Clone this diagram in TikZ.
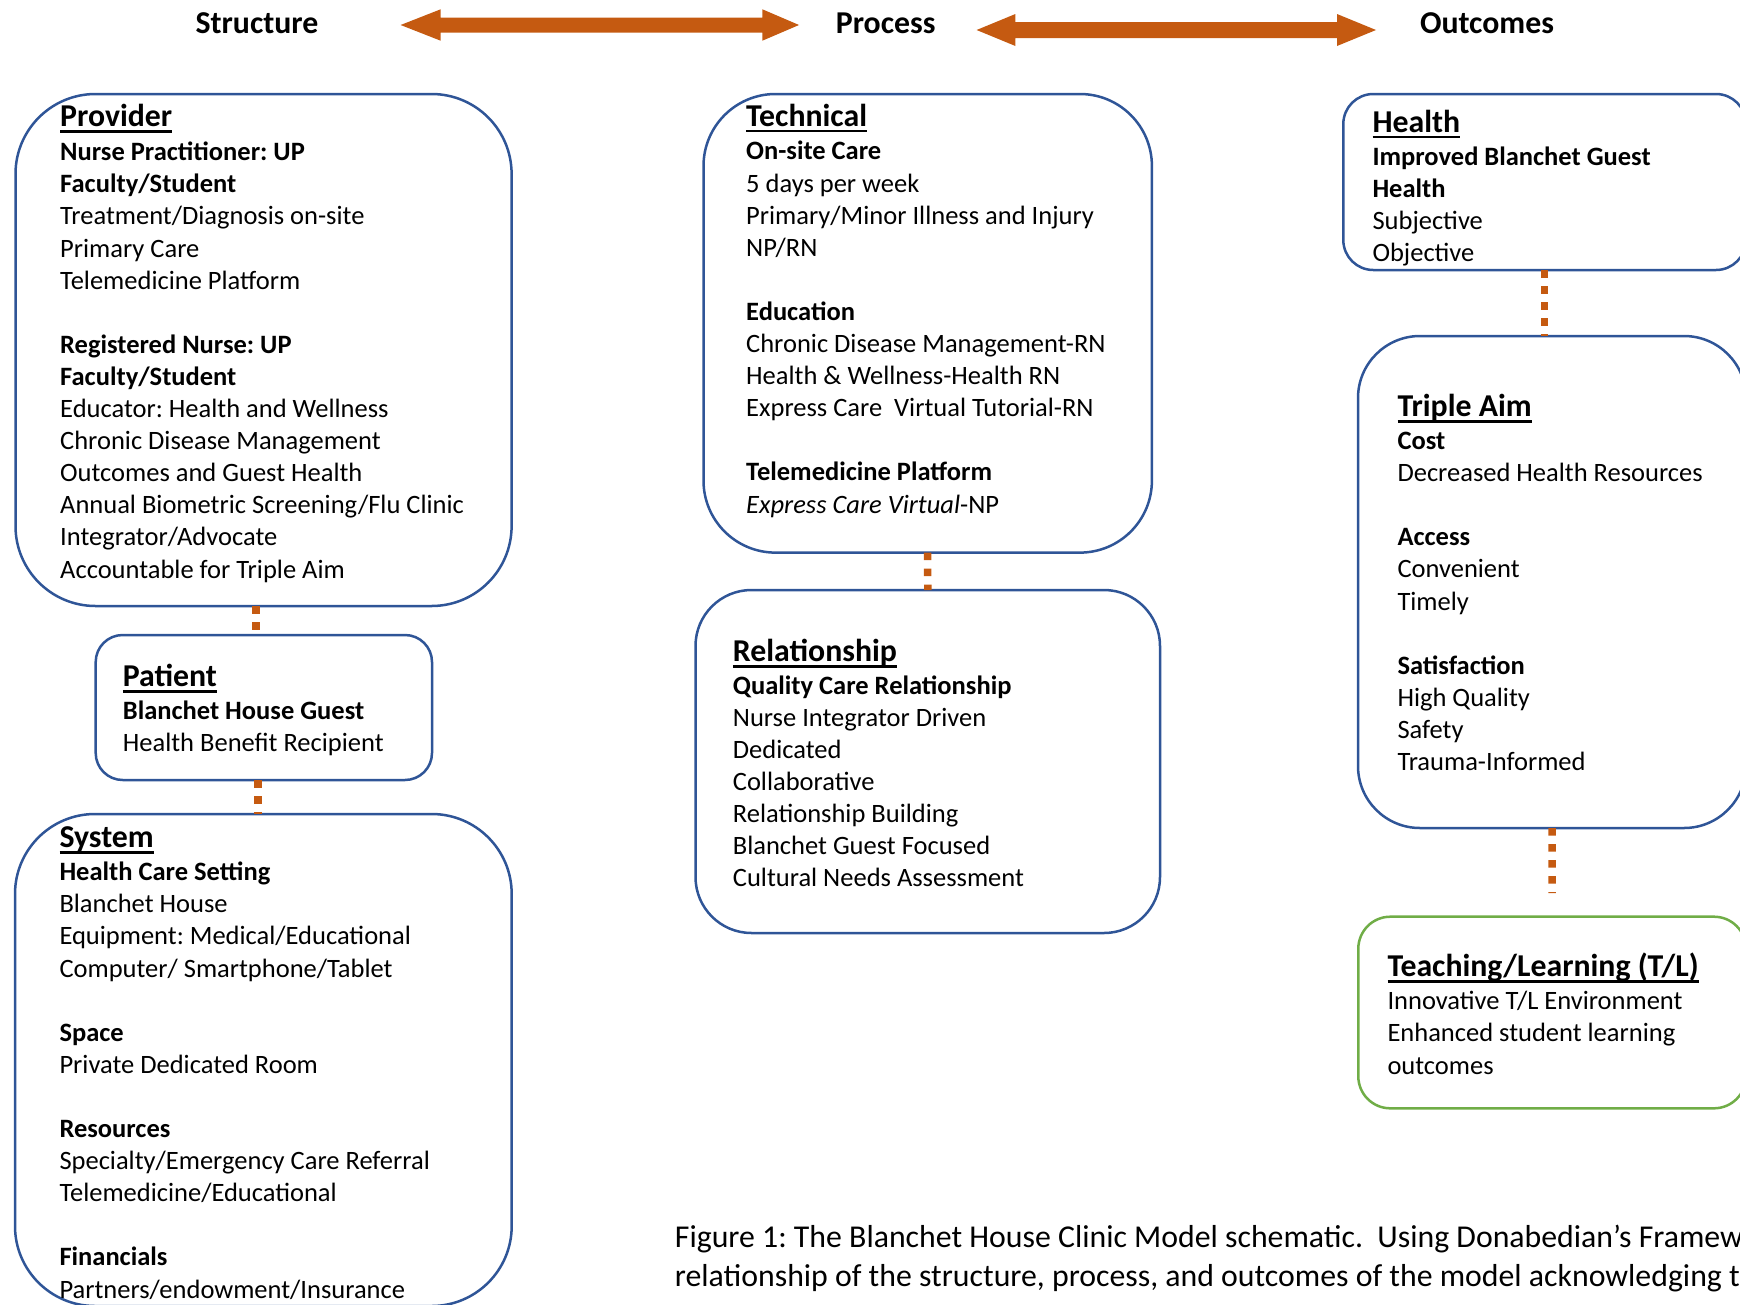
\documentclass[tikz,border=0pt]{standalone}
\usepackage{fontspec}
\setmainfont{Carlito}
\frenchspacing
\definecolor{bxblue}{HTML}{2F5597}
\definecolor{bxgreen}{HTML}{70AD47}
\definecolor{arrc}{HTML}{C55A11}
\newcommand\ulhead[1]{\setbox0\hbox{#1}\rlap{\rule[-6.3pt]{\wd0}{2.6pt}}\box0}
\tikzset{
  bx/.style={draw=bxblue, line width=2.5pt, rounded corners=#1, inner sep=0pt, outer sep=0pt, fill=none},
  gbx/.style={bx=#1, draw=bxgreen},
  hd/.style={anchor=base west, inner sep=0pt, font=\fontsize{31.8}{38.8}\selectfont\bfseries},
  bd/.style={anchor=base west, inner sep=0pt, align=left, font=\fontsize{26.5}{32.1}\selectfont},
  ttl/.style={anchor=base, inner sep=0pt, font=\fontsize{31.8}{38.8}\selectfont\bfseries},
  captext/.style={anchor=base west, inner sep=0pt, align=left, font=\fontsize{31.8}{39}\selectfont},
  dotc/.style={draw=arrc, line width=7.5pt, dash pattern=on 7.5pt off 8.5pt},
}
\begin{document}
\begin{tikzpicture}[x=1pt,y=-1pt]
\useasboundingbox (0,0) rectangle (1740,1304);

% titles
\node[ttl] (tstruct) at (257,33) {Structure};
\node[ttl] (tproc) at (885.7,33) {Process};
\node[ttl] (tout) at (1487,33) {Outcomes};

% double arrows
\fill[arrc] (400.6,25) -- (440.6,9.3) -- (440.6,17.5) -- (762.4,17.5) -- (762.4,9.3) -- (799,25)
  -- (762.4,40.7) -- (762.4,32.5) -- (440.6,32.5) -- (440.6,40.7) -- cycle;
\fill[arrc] (976.6,30) -- (1015.4,14) -- (1015.4,22) -- (1337,22) -- (1337,14) -- (1376,30)
  -- (1337,46) -- (1337,38) -- (1015.4,38) -- (1015.4,46) -- cycle;

% boxes
\node[bx=80, minimum width=496.1, minimum height=512] (prov) at (263.55,350) {};
\node[bx=27, minimum width=336.3, minimum height=145] (pat) at (263.85,707.5) {};
\node[bx=80, minimum width=496.7, minimum height=492] (sys) at (263.35,1060) {};
\node[bx=72, minimum width=448.4, minimum height=458.6] (tech) at (927.7,323.3) {};
\node[bx=56, minimum width=464.5, minimum height=343] (rel) at (927.75,761.5) {};
\node[bx=30, minimum width=402.7, minimum height=176] (health) at (1544.65,182) {};
\node[bx=62, minimum width=388, minimum height=492] (ta) at (1552,582) {};
\node[gbx=32, minimum width=387.7, minimum height=191.6] (tl) at (1552.15,1012.5) {};

% connectors
\draw[dotc] ([xshift=-7.5]prov.south) -- ([xshift=-7.5]prov.south |- pat.north);
\draw[dotc] ([xshift=-6]pat.south) -- ([xshift=-6]pat.south |- sys.north);
\draw[dotc] (tech.south) -- (rel.north);
\draw[dotc] (health.south) -- (health.south |- ta.north);
\draw[dotc, shorten >=23.7] (ta.south) -- (tl.north);

% (body nodes are placed at the baseline of their LAST line)
% Provider
\node[hd] (provh) at (60,126.7) {\ulhead{Provider}};
\node[bd] (provb) at (60,578) {\textbf{Nurse Practitioner: UP}\\
\textbf{Faculty/Student}\\
Treatment/Diagnosis on-site\\
Primary Care\\
Telemedicine Platform\\[32.1pt]
\textbf{Registered Nurse: UP}\\
\textbf{Faculty/Student}\\
Educator: Health and Wellness\\
Chronic Disease Management\\
Outcomes and Guest Health\\
Annual Biometric Screening/Flu Clinic\\
Integrator/Advocate\\
Accountable for Triple Aim};

% Patient
\node[hd] (path) at (122.7,686.7) {\ulhead{Patient}};
\node[bd] (patb) at (122.7,751.5) {\textbf{Blanchet House Guest}\\
Health Benefit Recipient};

% System
\node[hd] (sysh) at (59.3,847.7) {\ulhead{System}};
\node[bd] (sysb) at (59.3,1298) {\textbf{Health Care Setting}\\
Blanchet House\\
Equipment: Medical/Educational\\
Computer/ Smartphone/Tablet\\[32.1pt]
\textbf{Space}\\
Private Dedicated Room\\[32.1pt]
\textbf{Resources}\\
Specialty/Emergency Care Referral\\
Telemedicine/Educational\\[32.1pt]
\textbf{Financials}\\
Partners/endowment/Insurance};

% Technical
\node[hd] (techh) at (746,126) {\ulhead{Technical}};
\node[bd] (techb) at (746,513) {\textbf{On-site Care}\\
5 days per week\\
Primary/Minor Illness and Injury\\
NP/RN\\[32.1pt]
\textbf{Education}\\
Chronic Disease Management-RN\\
Health \& Wellness-Health RN\\
Express Care\ \ Virtual Tutorial-RN\\[32.1pt]
\textbf{Telemedicine Platform}\\
\textit{Express Care Virtual}-NP};

% Relationship
\node[hd] (relh) at (732.7,661.7) {\ulhead{Relationship}};
\node[bd] (relb) at (732.7,886.7) {\textbf{Quality Care Relationship}\\
Nurse Integrator Driven\\
Dedicated\\
Collaborative\\
Relationship Building\\
Blanchet Guest Focused\\
Cultural Needs Assessment};

% Health
\node[hd] (healthh) at (1372.3,132) {\ulhead{Health}};
\node[bd] (healthb) at (1372.3,261.7) {\textbf{Improved Blanchet Guest}\\
\textbf{Health}\\
Subjective\\
Objective};

% Triple Aim
\node[hd] (tah) at (1397.3,416.7) {\ulhead{Triple Aim}};
\node[bd] (tab) at (1397.3,770.5) {\textbf{Cost}\\
Decreased Health Resources\\[32.1pt]
\textbf{Access}\\
Convenient\\
Timely\\[32.1pt]
\textbf{Satisfaction}\\
High Quality\\
Safety\\
Trauma-Informed};

% Teaching/Learning
\node[hd] (tlh) at (1387.3,976.7) {\ulhead{Teaching/Learning (T/L)}};
\node[bd] (tlb) at (1387.3,1074) {Innovative T/L Environment\\
Enhanced student learning\\
outcomes};

% caption
\node[captext] (caption) at (674.7,1286) {Figure 1: The Blanchet House Clinic Model schematic.\ \ Using Donabedian’s Framework\\
relationship of the structure, process, and outcomes of the model acknowledging the};
\end{tikzpicture}
\end{document}
